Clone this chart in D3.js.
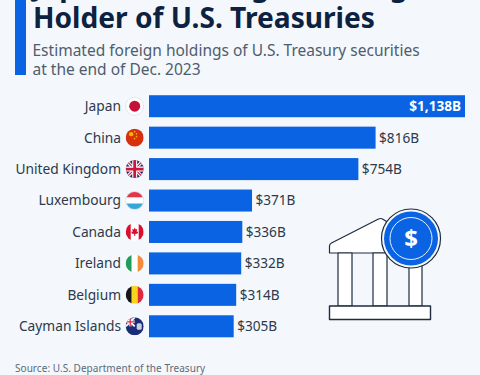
<!DOCTYPE html>
<html><head><meta charset="utf-8">
<script src="https://cdn.jsdelivr.net/npm/d3@7"></script>
<style>html,body{margin:0;padding:0;background:#f4f7fb}svg{display:block}text{font-family:"Noto Sans",sans-serif}</style>
</head><body><svg id="c" width="480" height="375"></svg>
<script>
const categories=["Japan","China","United Kingdom","Luxembourg","Canada","Ireland","Belgium","Cayman Islands"];
const values=[1138,816,754,371,336,332,314,305];
const labels=["$1,138B","$816B","$754B","$371B","$336B","$332B","$314B","$305B"];
const flagKeys=["jp","cn","gb","lu","ca","ie","be","ky"];
const titleLines=["Japan Is the Largest Foreign","Holder of U.S. Treasuries"];
const subtitleLines=["Estimated foreign holdings of U.S. Treasury securities","at the end of Dec. 2023"];
const sourceText="Source: U.S. Department of the Treasury";

const blue="#0963e2",navy="#0d2240",ink="#2b3a4d";
const svg=d3.select("#c");
svg.append("rect").attr("width",480).attr("height",375).attr("fill","#f4f7fb");
svg.append("rect").attr("x",15).attr("y",-5).attr("width",11).attr("height",80).attr("fill",blue);
svg.selectAll("text.t").data(titleLines).join("text").attr("class","t")
 .attr("x",33).attr("y",(d,i)=>-4+i*32).attr("font-size",28.15).attr("font-weight",700).attr("fill",navy).text(d=>d);
svg.selectAll("text.s").data(subtitleLines).join("text").attr("class","s")
 .attr("x",32.5).attr("y",(d,i)=>56+i*19).attr("font-size",15.5).attr("fill","#4f5d6e").text(d=>d);

const x=d3.scaleLinear().domain([0,1138]).range([149,465]);
const y=d3.scaleBand().domain(categories).range([90.5,342]).paddingInner(0.3).paddingOuter(0.15);
const bh=y.bandwidth();
svg.selectAll("rect.b").data(values).join("rect").attr("class","b")
 .attr("x",x(0)).attr("y",(d,i)=>y(categories[i])).attr("width",d=>x(d)-x(0)).attr("height",bh).attr("fill",blue);
svg.selectAll("text.c").data(categories).join("text").attr("class","c")
 .attr("x",121).attr("y",d=>y(d)+bh/2).attr("dy","0.36em").attr("text-anchor","end")
 .attr("font-size",13.75).attr("fill",ink).text(d=>d);
svg.selectAll("text.v").data(values).join("text").attr("class","v")
 .attr("x",(d,i)=>i===0?x(d)-4:x(d)+3.5).attr("y",(d,i)=>y(categories[i])+bh/2).attr("dy","0.36em")
 .attr("text-anchor",(d,i)=>i===0?"end":"start").attr("font-size",13.6)
 .attr("font-weight",(d,i)=>i===0?700:400).attr("fill",(d,i)=>i===0?"#fff":ink).text((d,i)=>labels[i]);

// flags
const defs=svg.append("defs");
const r=9;
const flags={
 jp:g=>{g.append("rect").attr("x",-r).attr("y",-r).attr("width",2*r).attr("height",2*r).attr("fill","#fff");g.append("circle").attr("r",5.5).attr("fill","#c4113a");},
 cn:g=>{g.append("rect").attr("x",-r).attr("y",-r).attr("width",2*r).attr("height",2*r).attr("fill","#d8300f");
   [[-3.5,-3.5,2.2],[0,-6,.8],[1.8,-3.8,.8],[1.8,-1,.8],[-.2,1,.8]].forEach(p=>g.append("circle").attr("cx",p[0]).attr("cy",p[1]).attr("r",p[2]).attr("fill","#f7b500"));},
 gb:g=>{g.append("rect").attr("x",-r).attr("y",-r).attr("width",2*r).attr("height",2*r).attr("fill","#1f2f6b");
   g.append("path").attr("d","M-9-9L9 9M9-9L-9 9").attr("stroke","#fff").attr("stroke-width",3.2);
   g.append("path").attr("d","M-9-9L9 9M9-9L-9 9").attr("stroke","#c8173c").attr("stroke-width",1.1);
   g.append("path").attr("d","M0-9V9M-9 0H9").attr("stroke","#fff").attr("stroke-width",5);
   g.append("path").attr("d","M0-9V9M-9 0H9").attr("stroke","#c8173c").attr("stroke-width",2.8);},
 lu:g=>{[["#e8344a",-9],["#fff",-3],["#35a7dc",3]].forEach(s=>g.append("rect").attr("x",-r).attr("y",s[1]).attr("width",2*r).attr("height",6).attr("fill",s[0]));},
 ca:g=>{g.append("rect").attr("x",-r).attr("y",-r).attr("width",2*r).attr("height",2*r).attr("fill","#fff");
   g.append("rect").attr("x",-r).attr("y",-r).attr("width",5).attr("height",2*r).attr("fill","#d8102f");
   g.append("rect").attr("x",4).attr("y",-r).attr("width",5).attr("height",2*r).attr("fill","#d8102f");
   g.append("path").attr("d","M0-4.5L1 -2.5L2.5-3L2 0L3.5-.5L3 1.5L.5 2V4H-.5V2L-3 1.5L-3.5-.5L-2 0L-2.5-3L-1-2.5Z").attr("fill","#d8102f");},
 ie:g=>{[["#1f9c5b",-9],["#fff",-3],["#f28c38",3]].forEach(s=>g.append("rect").attr("x",s[1]).attr("y",-r).attr("width",6).attr("height",2*r).attr("fill",s[0]));},
 be:g=>{[["#15161a",-9],["#f8d51d",-3],["#e0293d",3]].forEach(s=>g.append("rect").attr("x",s[1]).attr("y",-r).attr("width",6).attr("height",2*r).attr("fill",s[0]));},
 ky:g=>{g.append("rect").attr("x",-r).attr("y",-r).attr("width",2*r).attr("height",2*r).attr("fill","#1a2c78");
   g.append("rect").attr("x",-r).attr("y",-r).attr("width",9).attr("height",9).attr("fill","#2a3c88");
   g.append("path").attr("d","M-9-9L0 0M0-9L-9 0").attr("stroke","#fff").attr("stroke-width",1.8);
   g.append("path").attr("d","M-9-4.5H0M-4.5-9V0").attr("stroke","#fff").attr("stroke-width",2.4);
   g.append("path").attr("d","M-9-4.5H0M-4.5-9V0").attr("stroke","#d62c48").attr("stroke-width",1.3);
   g.append("rect").attr("x",2).attr("y",-3).attr("width",5).attr("height",6.5).attr("rx",1.5).attr("fill","#c9d2dc");}
};
categories.forEach((c,i)=>{
 const k=flagKeys[i];
 defs.append("clipPath").attr("id","f"+k).append("circle").attr("r",r);
 const g=svg.append("g").attr("transform",`translate(134.7,${y(c)+bh/2})`);
 const inner=g.append("g").attr("clip-path",`url(#f${k})`);
 flags[k](inner);
 g.append("circle").attr("r",r).attr("fill","none").attr("stroke","#dde1e8").attr("stroke-width",k==="jp"||k==="lu"?.8:0);
});

// bank icon
const ic=svg.append("g").attr("fill","#fff").attr("stroke","#1d2c40").attr("stroke-width",1.2).attr("stroke-linejoin","round");
ic.append("path").attr("d","M329.5 253V246Q329.5 244 331.5 243L378.5 219Q380.5 218 382.5 219L400 230V253Z");
[[338,352],[373,387],[409,422]].forEach(c=>{
 ic.append("rect").attr("x",c[0]).attr("y",253).attr("width",c[1]-c[0]).attr("height",53);
});
ic.append("rect").attr("x",329.5).attr("y",306).attr("width",101).attr("height",13.5).attr("stroke-width",1.4);
ic.append("circle").attr("cx",411).attr("cy",238.5).attr("r",29.5).attr("fill","#f4f7fb");
ic.append("circle").attr("cx",411).attr("cy",238.5).attr("r",27).attr("fill",blue).attr("stroke","none");
ic.append("circle").attr("cx",411).attr("cy",238.5).attr("r",21).attr("fill","none").attr("stroke","#e8f0fb").attr("stroke-width",1);
svg.append("text").attr("x",411).attr("y",238.5).attr("dy","0.36em").attr("text-anchor","middle").attr("font-size",24).attr("font-weight",700).attr("fill","#fff").text("$");

svg.append("text").attr("x",15).attr("y",372).attr("font-size",10).attr("letter-spacing",0.05).attr("fill","#5d6a7a").text(sourceText);
</script></body></html>
